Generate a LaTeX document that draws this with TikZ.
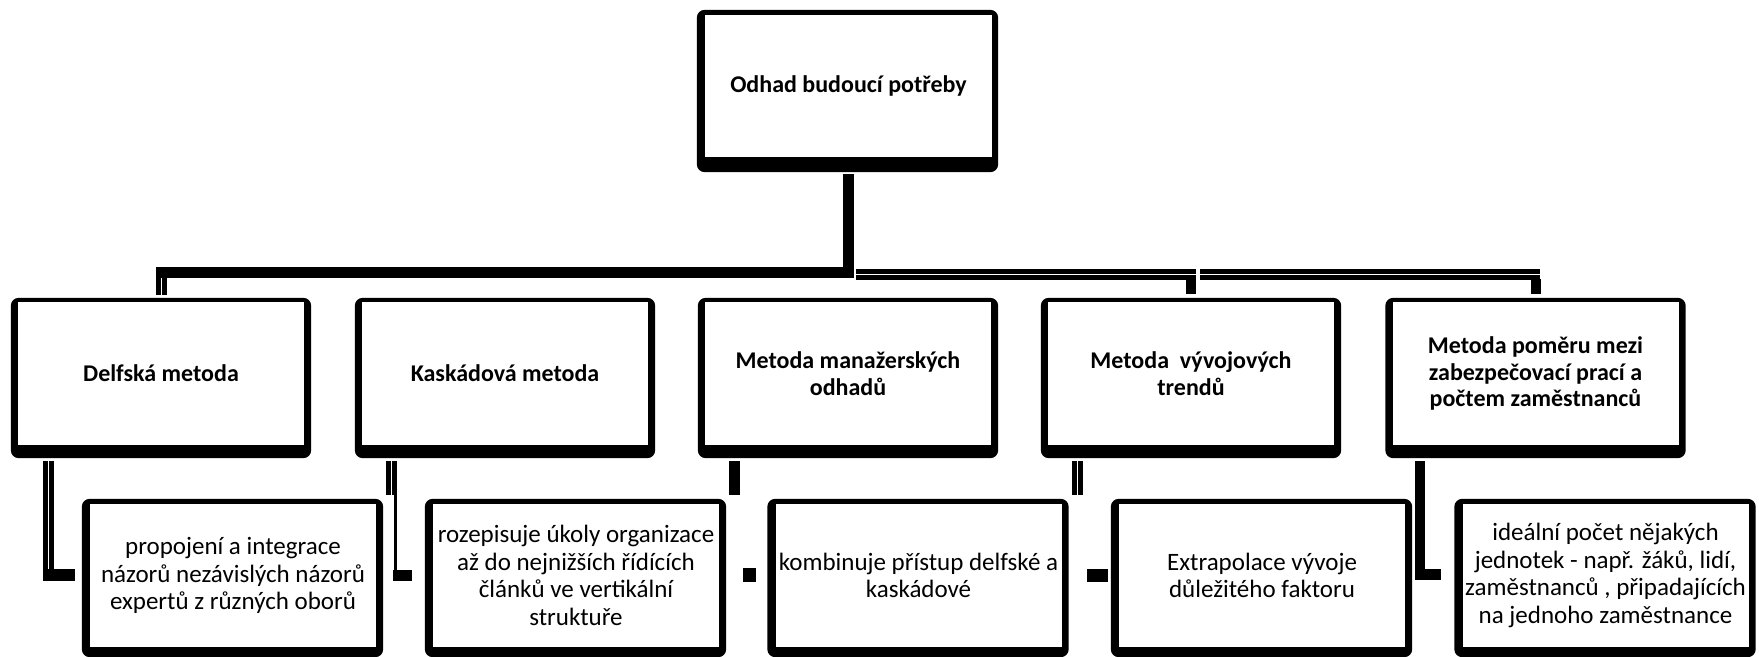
\documentclass[tikz,border=0pt]{standalone}
\usepackage{fontspec}
\setmainfont{Carlito}
\usetikzlibrary{backgrounds}
\begin{document}
\begin{tikzpicture}[x=1pt,y=-1pt,
  inbox/.style={fill=white, inner sep=0pt, minimum width=286pt, minimum height=143pt, align=center, font=\fontsize{25}{27.5}\selectfont},
  hbox/.style={inbox, font=\fontsize{24}{26.7}\selectfont\bfseries},
  conn/.style={line width=11pt},
  dconn/.style={line width=5pt, double=white, double distance=1pt},
  frame/.style={fill=black, rounded corners=8pt},
]
\useasboundingbox (0,0) rectangle (1759,656);
% nodes
\node[hbox, minimum width=287pt, minimum height=142pt] (top) at (848.5,86) {Odhad budoucí potřeby};
\node[hbox] (m1) at (161,373.5) {Delfská metoda};
\node[hbox] (m2) at (505,373.5) {Kaskádová metoda};
\node[hbox] (m3) at (848,373.5) {Metoda manažerských\\odhadů};
\node[hbox] (m4) at (1191,373.5) {Metoda\ \ vývojových\\trendů};
\node[hbox] (m5) at (1535.5,373.5) {Metoda poměru mezi\\zabezpečovací prací a\\počtem zaměstnanců};
\node[inbox] (d1) at (233,575.5) {propojení a integrace\\názorů nezávislých názorů\\expertů z různých oborů};
\node[inbox] (d2) at (576,575.5) {rozepisuje úkoly organizace\\až do nejnižších řídících\\článků ve vertikální\\struktuře};
\node[inbox] (d3) at (918.5,575.5) {kombinuje přístup delfské a\\kaskádové};
\node[inbox] (d4) at (1262,575.5) {Extrapolace vývoje\\důležitého faktoru};
\node[inbox] (d5) at (1605.5,575.5) {ideální počet nějakých\\jednotek - např. žáků, lidí,\\zaměstnanců , připadajících\\na jednoho zaměstnance};
% frames
\begin{scope}[on background layer]
\fill[frame] ([shift={(-8,-5)}]top.north west) rectangle ([shift={(6,15)}]top.south east);
\foreach \n in {m1,m2,m3,m4,m5}
  \fill[frame] ([shift={(-7,-4)}]\n.north west) rectangle ([shift={(7,13)}]\n.south east);
\foreach \n in {d1,d2,d3,d4,d5}
  \fill[frame] ([shift={(-8,-5)}]\n.north west) rectangle ([shift={(7,10)}]\n.south east);
\end{scope}
% main bar
\coordinate (j1) at (156,272);
\coordinate (k0) at (856,274);
\coordinate (k1) at (1196,274);
\coordinate (k2) at (1200,274);
\coordinate (k3) at (1540,274);
\draw[dconn] (m1.north |- j1) -- ([yshift=7pt]m1.north);
\draw[conn] ([yshift=-17pt]top.south) |- (j1);
\draw[line width=10pt] ([yshift=-5pt]m4.north |- k1) -- ([yshift=8pt]m4.north);
\draw[line width=10pt] ([yshift=-5pt]m5.north |- k3) -- ([yshift=8pt]m5.north);
\draw[dconn] (k0) -- (k1);
\draw[dconn] (k2) -- (k3);
% lower fragments
\coordinate (a1) at (48,461);  \coordinate (a2) at (48,569);
\coordinate (a3) at (43,575);  \coordinate (a4) at (75,575);
\draw[dconn] (a1) -- (a2);
\draw[line width=12pt] (a3) -- (a4);
\coordinate (b1) at (391,461); \coordinate (b2) at (391,495);
\coordinate (b3) at (395,495); \coordinate (b4) at (395,570);
\coordinate (b5) at (393,575); \coordinate (b6) at (412,575);
\draw[dconn] (b1) -- (b2);
\draw[line width=3pt] (b3) -- (b4);
\draw[conn] (b5) -- (b6);
\coordinate (c1) at (734.5,461); \coordinate (c2) at (734.5,495);
\draw[conn] (c1) -- (c2);
\fill (743,568) rectangle (756,582);
\coordinate (e1) at (1077.5,461); \coordinate (e2) at (1077.5,495);
\coordinate (e3) at (1087,575); \coordinate (e4) at (1108,575);
\draw[dconn] (e1) -- (e2);
\draw[line width=13pt] (e3) -- (e4);
\coordinate (f1) at (1420,461); \coordinate (f2) at (1420,580);
\coordinate (f3) at (1415,574.5); \coordinate (f4) at (1441,574.5);
\draw[line width=10pt] (f1) -- (f2);
\draw[conn] (f3) -- (f4);
\end{tikzpicture}
\end{document}
